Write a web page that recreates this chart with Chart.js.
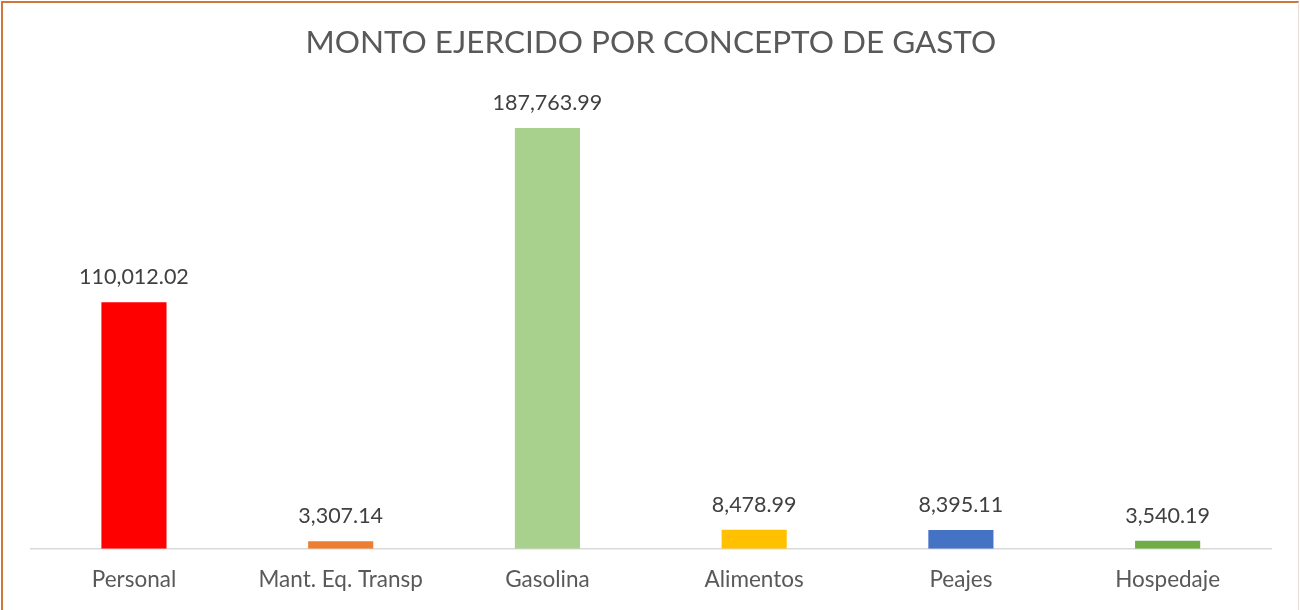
<!DOCTYPE html>
<html>
<head>
<meta charset="utf-8">
<script src="https://cdn.jsdelivr.net/npm/chart.js@4.4.1/dist/chart.umd.min.js"></script>
<style>
  html, body { margin: 0; padding: 0; background: #ffffff; }
  #wrap { position: relative; width: 1300px; height: 610px; overflow: hidden; }
  #frame { position: absolute; left: 1px; top: 1px; width: 1295px; height: 620px;
           border-left: 2px solid #D2773A; border-top: 2px solid #D2773A; border-right: 1px solid #EADCD4; }
  canvas { position: absolute; left: 0; top: 0; }
</style>
</head>
<body>
<div id="wrap">
  <canvas id="c" width="1300" height="610"></canvas>
  <div id="frame"></div>
</div>
<script>
const categories = ["Personal", "Mant. Eq. Transp", "Gasolina", "Alimentos", "Peajes", "Hospedaje"];
const montos = [110012.02, 3307.14, 187763.99, 8478.99, 8395.11, 3540.19];
const barColors = ["#FF0000", "#ED7D31", "#A9D18E", "#FFC000", "#4472C4", "#70AD47"];
const chartTitle = "MONTO EJERCIDO POR CONCEPTO DE GASTO";

const FONT = "Lato, 'Open Sans', sans-serif";

const valueLabels = {
  id: 'valueLabels',
  afterDatasetsDraw(chart) {
    const ctx = chart.ctx;
    const meta = chart.getDatasetMeta(0);
    ctx.save();
    ctx.font = "21.5px " + FONT;
    ctx.fillStyle = "#404040";
    ctx.textAlign = "center";
    ctx.textBaseline = "alphabetic";
    meta.data.forEach((bar, i) => {
      const v = chart.data.datasets[0].data[i];
      const txt = v.toLocaleString('en-US', {minimumFractionDigits: 2, maximumFractionDigits: 2});
      ctx.fillText(txt, bar.x, bar.y - 18);
    });
    ctx.restore();
  }
};

new Chart(document.getElementById('c'), {
  type: 'bar',
  data: {
    labels: categories,
    datasets: [{
      data: montos,
      backgroundColor: barColors,
      borderWidth: 0,
      barPercentage: 1,
      categoryPercentage: 0.315
    }]
  },
  options: {
    responsive: false,
    animation: false,
    devicePixelRatio: 1,
    layout: { padding: { left: 30.6, right: 29, top: 0, bottom: 0 } },
    plugins: {
      legend: { display: false },
      tooltip: { enabled: false },
      title: {
        display: true,
        text: chartTitle,
        color: "#595959",
        font: { family: FONT, size: 31.5, weight: 'normal', lineHeight: 1.2 },
        padding: { top: 23.6, bottom: 39.2 }
      }
    },
    scales: {
      x: {
        grid: { display: false, drawTicks: false },
        border: { display: true, color: "#D9D9D9", width: 1.5 },
        ticks: { color: "#595959", font: { family: FONT, size: 22.5, lineHeight: 0.5 }, padding: 25, maxRotation: 0, autoSkip: false }
      },
      y: {
        display: false,
        min: 0,
        max: 200000
      }
    }
  },
  plugins: [valueLabels]
});
</script>
</body>
</html>
